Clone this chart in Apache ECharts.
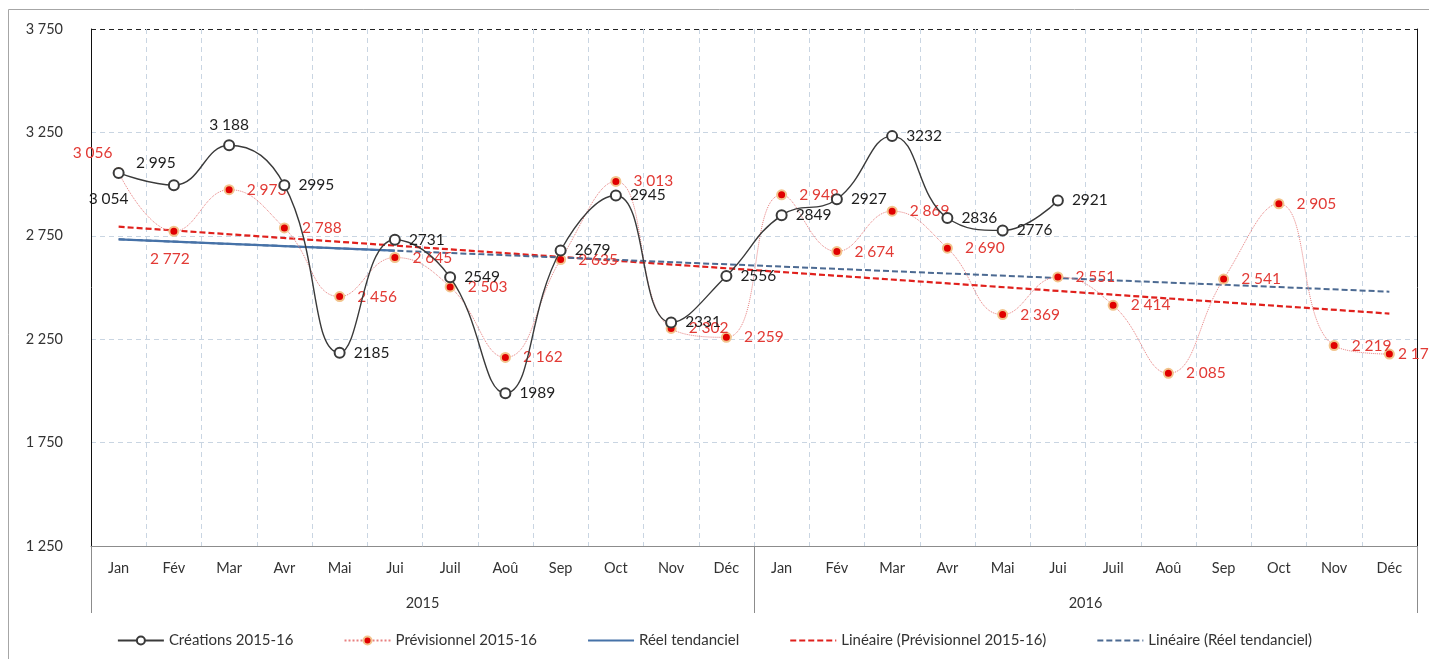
<!DOCTYPE html>
<html>
<head>
<meta charset="utf-8">
<script src="https://cdn.jsdelivr.net/npm/echarts@6/dist/echarts.min.js"></script>
<style>
  html, body { margin: 0; padding: 0; background: #fff; }
  #chart { width: 1429px; height: 659px; }
</style>
</head>
<body>
<div id="chart"></div>
<script>
const months = ['Jan', 'Fév', 'Mar', 'Avr', 'Mai', 'Jui', 'Juil', 'Aoû', 'Sep', 'Oct', 'Nov', 'Déc']
const categories = months.concat(months)
const years = ['2015', '2016']
const yTicks = [1250, 3750, 500]

const creations = [3054, 2995, 3188, 2995, 2185, 2731, 2549, 1989, 2679, 2945, 2331, 2556,
  2849, 2927, 3232, 2836, 2776, 2921, null, null, null, null, null, null]
const previsionnel = [3056, 2772, 2973, 2788, 2456, 2645, 2503, 2162, 2635, 3013, 2302, 2259,
  2948, 2674, 2869, 2690, 2369, 2551, 2414, 2085, 2541, 2905, 2219, 2178]
// réel tendanciel : droite de Jan à Jui 2015
const reelTendanciel = [2733, null, null, null, null, 2678]
// courbes de tendance (début, fin)
const lineairePrev = [2794, 2374]
const lineaireReel = [2733, 2480]

const font = 'Lato'
const red = '#e23a35'
const ink = '#1e1e1e'

const spaced = v => String(v).replace(/\B(?=(\d{3})+(?!\d))/g, ' ')
const ends = pair => categories.map((c, i) => i === 0 ? pair[0] : (i === categories.length - 1 ? pair[1] : null))

// positions particulières des étiquettes
const creaPos = {
  0: { position: 'bottom', distance: 12, offset: [-10, 0] },
  1: { position: 'top', distance: 8, offset: [-18, 0] },
  2: { position: 'top', distance: 6 }
}
const prevPos = {
  0: { position: 'top', distance: 6, offset: [-26, 0] },
  1: { position: 'bottom', distance: 14, offset: [-4, 0] },
  23: { position: 'right', distance: 3 }
}

const creaData = creations.map((v, i) => {
  const item = { value: v }
  if (creaPos[i]) item.label = creaPos[i]
  return item
})
const prevData = previsionnel.map((v, i) => {
  const item = { value: v }
  if (prevPos[i]) item.label = prevPos[i]
  return item
})

const noDot = { opacity: 0 }

const option = {
  animation: false,
  backgroundColor: '#fff',
  textStyle: { fontFamily: font },
  graphic: [{
    type: 'rect',
    shape: { x: 8.5, y: 9.5, width: 1440, height: 700 },
    style: { fill: 'none', stroke: '#a6a6a6', lineWidth: 1 },
    silent: true
  }],
  grid: { left: 91, right: 12, top: 29, bottom: 113 },
  legend: {
    top: 628,
    left: 'center',
    itemWidth: 46,
    itemHeight: 10,
    itemGap: 50,
    textStyle: { fontFamily: font, fontSize: 15, color: '#333' },
    data: [
      { name: 'Créations 2015-16' },
      { name: 'Prévisionnel 2015-16' },
      { name: 'Réel tendanciel', itemStyle: noDot },
      { name: 'Linéaire (Prévisionnel 2015-16)', itemStyle: noDot },
      { name: 'Linéaire (Réel tendanciel)', itemStyle: noDot }
    ]
  },
  xAxis: [{
    type: 'category',
    data: categories,
    boundaryGap: true,
    axisLine: { lineStyle: { color: '#8c8c8c', width: 1 } },
    axisTick: { show: false },
    axisLabel: { margin: 15, fontFamily: font, fontSize: 14.5, color: '#333' },
    splitLine: { show: true, lineStyle: { color: '#c9d5e2', type: [5, 4], width: 1 } }
  }, {
    type: 'category',
    data: years,
    position: 'bottom',
    boundaryGap: true,
    axisLine: { show: false },
    axisTick: { show: true, length: 67, lineStyle: { color: '#8c8c8c' } },
    axisLabel: { margin: 50, fontFamily: font, fontSize: 14.5, color: '#333' },
    splitLine: { show: false }
  }],
  yAxis: [{
    type: 'value',
    min: yTicks[0],
    max: yTicks[1],
    interval: yTicks[2],
    axisLine: { show: true, lineStyle: { color: '#111', width: 1 } },
    axisTick: { show: false },
    axisLabel: { margin: 28, fontFamily: font, fontSize: 14.5, color: '#333', formatter: spaced },
    splitLine: {
      show: true,
      lineStyle: { color: ['#c9d5e2', '#c9d5e2', '#c9d5e2', '#c9d5e2', '#c9d5e2', '#222'], type: [5, 4], width: 1 }
    }
  }, {
    type: 'value',
    position: 'right',
    min: yTicks[0],
    max: yTicks[1],
    interval: yTicks[2],
    axisLine: { show: true, lineStyle: { color: '#111', width: 1 } },
    axisTick: { show: false },
    axisLabel: { show: false },
    splitLine: { show: false }
  }],
  series: [{
    name: 'Linéaire (Prévisionnel 2015-16)',
    type: 'line',
    data: ends(lineairePrev),
    connectNulls: true,
    symbol: 'none',
    z: 3,
    lineStyle: { color: '#e0201c', width: 2.2, type: [6, 3] },
    itemStyle: { color: '#e0201c' }
  }, {
    name: 'Linéaire (Réel tendanciel)',
    type: 'line',
    data: ends(lineaireReel),
    connectNulls: true,
    symbol: 'none',
    z: 3,
    lineStyle: { color: '#4c6a92', width: 2, type: [6, 3] },
    itemStyle: { color: '#4c6a92' }
  }, {
    name: 'Réel tendanciel',
    type: 'line',
    data: reelTendanciel,
    connectNulls: true,
    symbol: 'none',
    z: 4,
    lineStyle: { color: '#4672a8', width: 2.2 },
    itemStyle: { color: '#4672a8' }
  }, {
    name: 'Prévisionnel 2015-16',
    type: 'line',
    data: prevData,
    smooth: 0.45,
    symbol: 'circle',
    symbolSize: 9,
    z: 5,
    lineStyle: { color: '#e88080', width: 1, type: 'dotted' },
    itemStyle: { color: '#e00000', borderColor: '#f2c48d', borderWidth: 2 },
    label: {
      show: true,
      position: 'right',
      distance: 12,
      color: red,
      fontFamily: font,
      fontSize: 15.5,
      formatter: p => spaced(p.value)
    }
  }, {
    name: 'Créations 2015-16',
    type: 'line',
    data: creaData,
    smooth: 0.45,
    symbol: 'emptyCircle',
    symbolSize: 10,
    z: 6,
    lineStyle: { color: '#3a3a3a', width: 1.4 },
    itemStyle: { color: '#3a3a3a', borderColor: '#3a3a3a', borderWidth: 1.2 },
    label: {
      show: true,
      position: 'right',
      distance: 8,
      color: ink,
      fontFamily: font,
      fontSize: 15.5,
      formatter: p => p.dataIndex < 3 ? spaced(p.value) : String(p.value)
    }
  }]
}

const chart = echarts.init(document.getElementById('chart'))
chart.setOption(option)
window.addEventListener('resize', () => {
  chart.resize()
})
</script>
</body>
</html>
